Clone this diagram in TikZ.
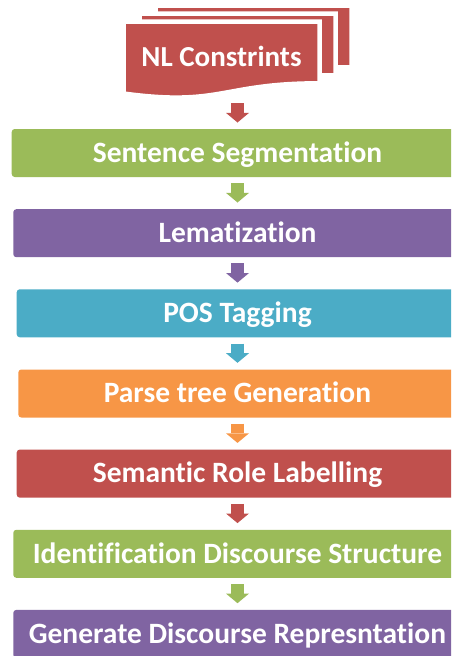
\documentclass[tikz,border=0pt]{standalone}
\usepackage{fontspec}
\setmainfont{Carlito}[Ligatures={NoCommon}]
\usetikzlibrary{arrows.meta}
\definecolor{nlred}{HTML}{C0504D}
\definecolor{nlgreen}{HTML}{9BBB59}
\definecolor{nlpurple}{HTML}{8064A2}
\definecolor{nlaqua}{HTML}{4BACC6}
\definecolor{nlorange}{HTML}{F79646}
\tikzset{
  stage/.style={rounded corners=3pt,fill=#1,text=white,inner sep=0pt,
    minimum height=48pt,font=\fontsize{29.5}{35}\selectfont\bfseries,
    text height=18.5pt,text depth=0pt},
  stage/.default=nlgreen,
  page/.style={fill=nlred,draw=white,line width=4.5pt},
  doclabel/.style={text=white,inner sep=0pt,font=\fontsize{29}{35}\selectfont\bfseries,
    text height=18.3pt,text depth=0pt},
  flow/.style={line width=13.6pt,draw=#1,shorten <=6pt,shorten >=6.5pt,
    -{Triangle[length=9.6pt,width=23pt,line width=0pt]}},
  flow/.default=nlred,
}

\begin{document}
\begin{tikzpicture}[x=1pt,y=-1pt]
    \useasboundingbox (0,0) rectangle (451,656);
    \clip (0,0) rectangle (451,656);
    % stacked pages, back to front
    \path[page,shift={(155.5,5.5)}] (0,0) -- (196,0) -- (196,61.8)
      .. controls (98,61.8) and (98,85.3) .. (0,72) -- cycle;
    \path[page,shift={(139.5,13.5)}] (0,0) -- (196,0) -- (196,61.8)
      .. controls (98,61.8) and (98,85.3) .. (0,72) -- cycle;
    \path[page,shift={(123.5,21.5)}] (0,0) -- (196,0) -- (196,61.8)
      .. controls (98,61.8) and (98,85.3) .. (0,72) -- cycle;
    \node[doclabel] (doc) at (221.5,57) {NL Constrints};
    \coordinate (docfoot) at (237.5,103.3);

    \node[stage=nlgreen,minimum width=451.6pt] (seg) at (237.5,153) {Sentence Segmentation};
    \node[stage=nlpurple,minimum width=448.4pt] (lem) at (237.5,233.2) {Lematization};
    \node[stage=nlaqua,minimum width=441.6pt] (pos) at (237.5,313.3) {POS Tagging};
    \node[stage=nlorange,minimum width=438.4pt] (parse) at (237.5,393.5) {Parse tree Generation};
    \node[stage=nlred,minimum width=441.6pt] (srl) at (237.5,473.6) {Semantic Role Labelling};
    \node[stage=nlgreen,minimum width=448.4pt] (disc) at (237.5,553.8) {Identification Discourse Structure};
    \node[stage=nlpurple,minimum width=448.4pt] (gen) at (237.5,633.9) {Generate Discourse Represntation};

    \draw[flow=nlred,shorten <=0pt,shorten >=6.3pt] (docfoot) -- (seg);
    \draw[flow=nlgreen] (seg) -- (lem);
    \draw[flow=nlpurple] (lem) -- (pos);
    \draw[flow=nlaqua] (pos) -- (parse);
    \draw[flow=nlorange] (parse) -- (srl);
    \draw[flow=nlred] (srl) -- (disc);
    \draw[flow=nlgreen] (disc) -- (gen);
  \end{tikzpicture}
\end{document}
